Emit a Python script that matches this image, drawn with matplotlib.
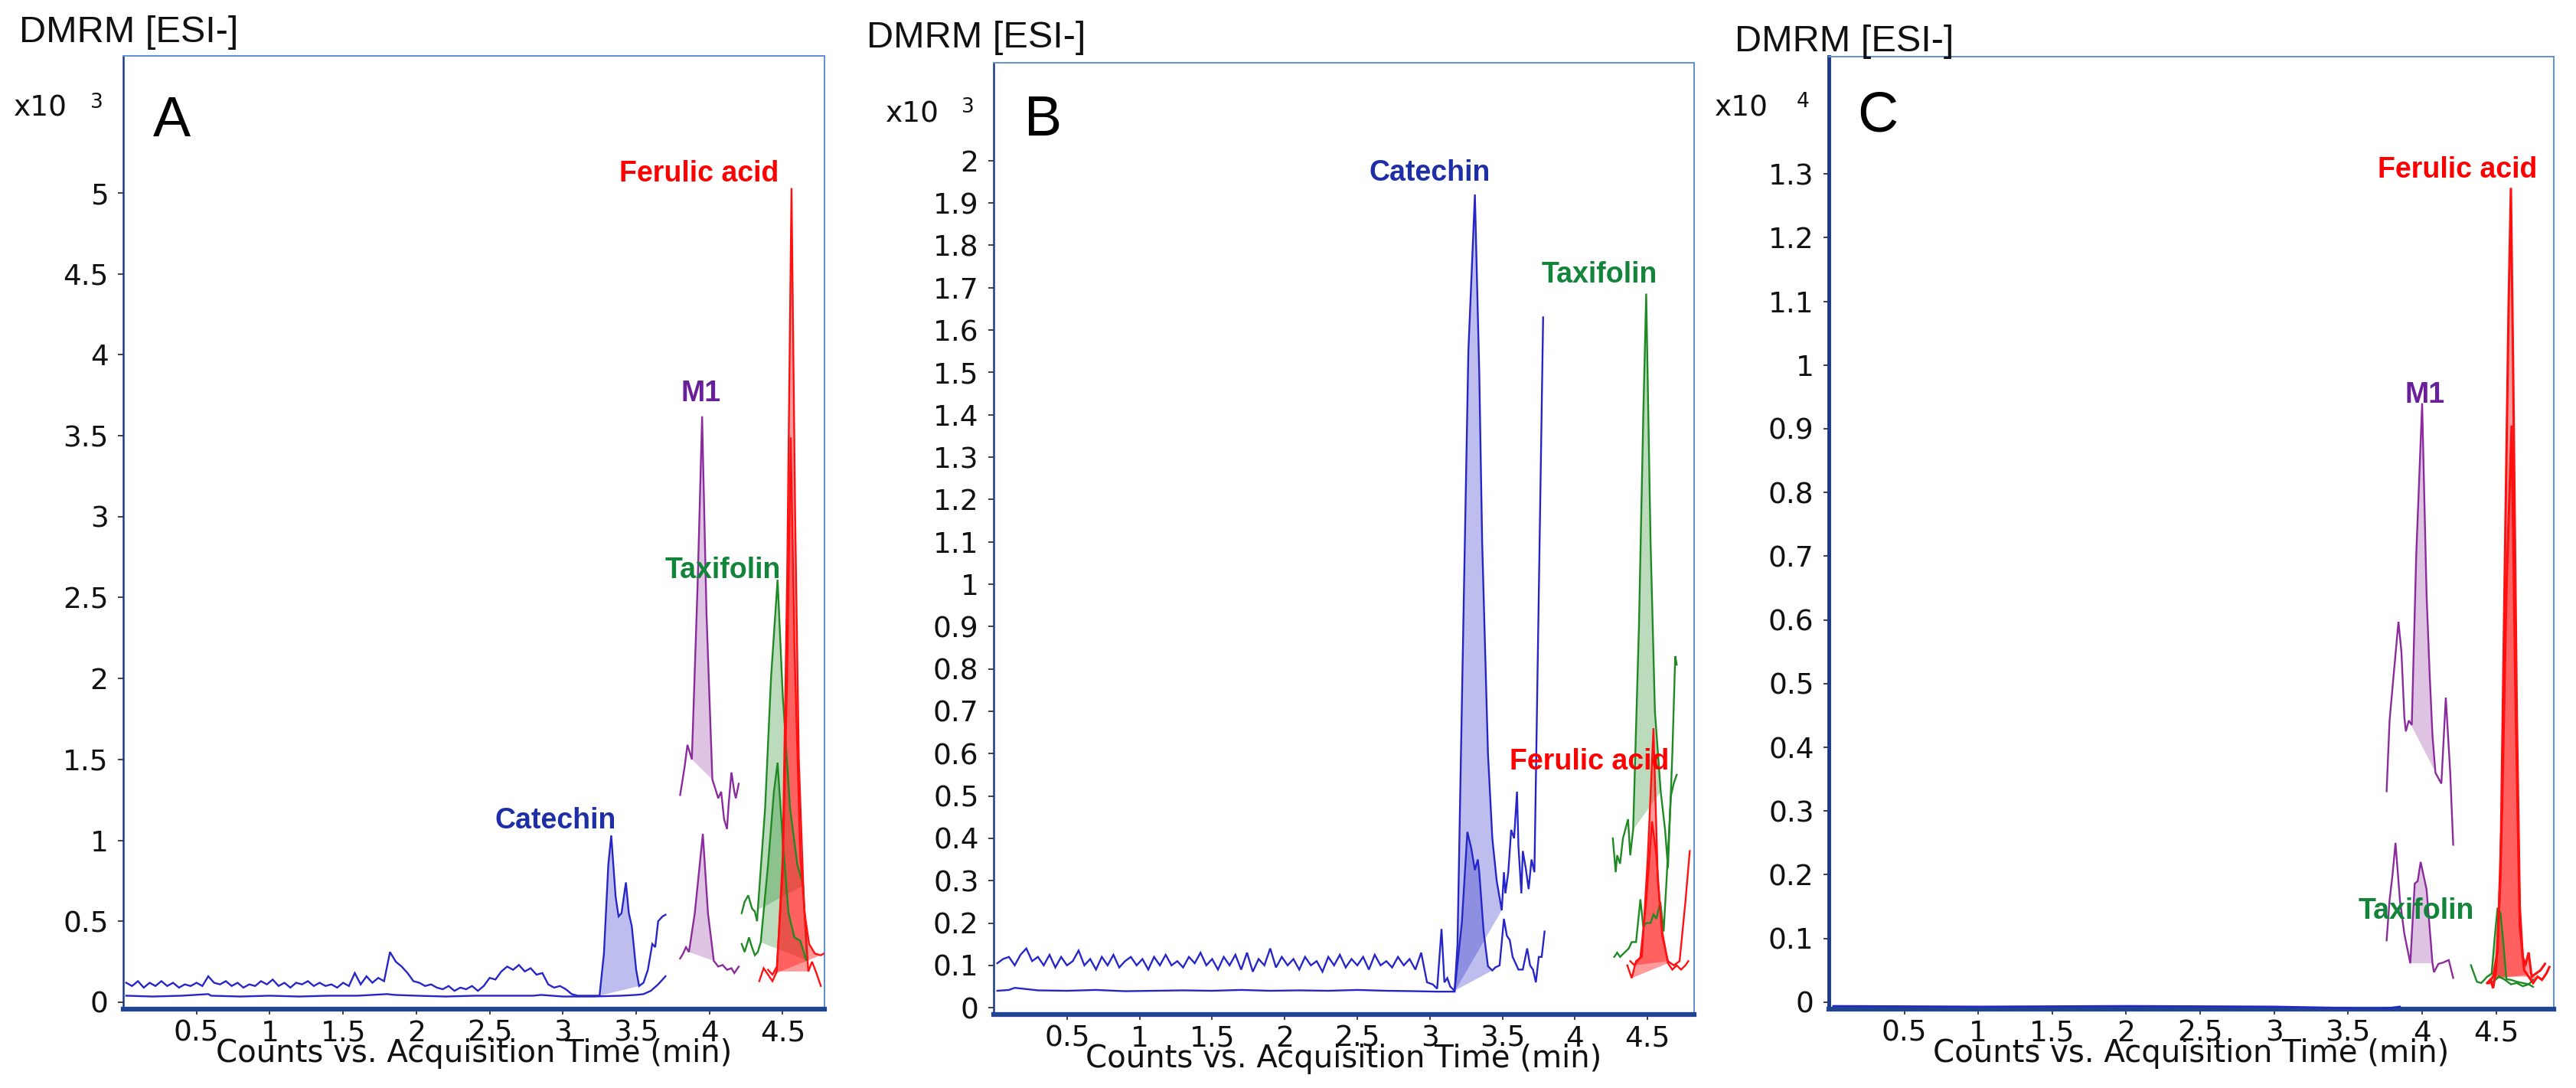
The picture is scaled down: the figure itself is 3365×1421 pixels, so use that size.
import matplotlib
matplotlib.use("Agg")
import matplotlib.pyplot as plt

W, H = 3366, 1421

# ---------------- data (time in min, counts in x10^n) ----------------

# panel A, x10^3
A_CAT1_T = [0.02, 0.06, 0.10, 0.14, 0.18, 0.22, 0.26, 0.30, 0.34, 0.38,
            0.42, 0.46, 0.50, 0.54, 0.58, 0.62, 0.66, 0.70, 0.74, 0.78,
            0.82, 0.86, 0.90, 0.94, 0.98, 1.02, 1.06, 1.10, 1.14, 1.18,
            1.22, 1.26, 1.30, 1.34, 1.38, 1.42, 1.46, 1.50, 1.54, 1.58,
            1.62, 1.66, 1.70, 1.74, 1.78, 1.82, 1.86, 1.90, 1.94, 1.98,
            2.02, 2.06, 2.10, 2.14, 2.18, 2.22, 2.26, 2.30, 2.34, 2.38,
            2.42, 2.46, 2.50, 2.54, 2.58, 2.62, 2.66, 2.70, 2.74, 2.78,
            2.82, 2.86, 2.90, 2.94, 2.98, 3.02, 3.06, 3.10, 3.14, 3.18,
            3.22, 3.25, 3.28, 3.31, 3.33, 3.36, 3.38, 3.40, 3.43, 3.45,
            3.47, 3.50, 3.52, 3.55, 3.58, 3.61, 3.63, 3.65, 3.68, 3.70]
A_CAT1_Y = [0.12, 0.10, 0.13, 0.09, 0.12, 0.10, 0.13, 0.10, 0.12, 0.09,
            0.11, 0.10, 0.12, 0.10, 0.16, 0.12, 0.11, 0.13, 0.10, 0.12,
            0.09, 0.11, 0.10, 0.13, 0.11, 0.14, 0.10, 0.12, 0.09, 0.12,
            0.11, 0.13, 0.10, 0.12, 0.10, 0.11, 0.09, 0.12, 0.10, 0.18,
            0.11, 0.16, 0.12, 0.15, 0.13, 0.31, 0.25, 0.22, 0.18, 0.13,
            0.12, 0.10, 0.11, 0.09, 0.08, 0.10, 0.07, 0.09, 0.08, 0.10,
            0.07, 0.10, 0.15, 0.14, 0.19, 0.22, 0.20, 0.23, 0.19, 0.21,
            0.17, 0.18, 0.11, 0.09, 0.10, 0.08, 0.05, 0.04, 0.04, 0.04,
            0.04, 0.04, 0.30, 0.85, 1.03, 0.65, 0.53, 0.55, 0.74, 0.55,
            0.47, 0.20, 0.10, 0.12, 0.20, 0.36, 0.34, 0.50, 0.53, 0.54]
A_CAT1_WIN = (3.25, 3.52)
A_CAT2_T = [0.02, 0.2, 0.4, 0.58, 0.6, 0.8, 1.0, 1.2, 1.4, 1.6, 1.8, 1.85, 2.0,
            2.2, 2.4, 2.6, 2.8, 2.85, 3.0, 3.2, 3.4, 3.5, 3.55, 3.6, 3.65, 3.70]
A_CAT2_Y = [0.04, 0.035, 0.04, 0.05, 0.04, 0.035, 0.04, 0.035, 0.04, 0.04, 0.05,
            0.045, 0.04, 0.035, 0.04, 0.04, 0.04, 0.045, 0.035, 0.035, 0.04,
            0.045, 0.05, 0.07, 0.11, 0.16]

A_M1A_T = [3.80, 3.83, 3.85, 3.88, 3.92, 3.95, 3.98, 4.02, 4.04, 4.06, 4.08,
           4.10, 4.12, 4.13, 4.15, 4.17, 4.18, 4.20]
A_M1A_Y = [1.28, 1.45, 1.59, 1.50, 2.60, 3.62, 2.40, 1.375, 1.32, 1.26, 1.30,
           1.13, 1.07, 1.21, 1.42, 1.30, 1.26, 1.35]
A_M1A_WIN = (3.88, 4.02)
A_M1B_T = [3.80, 3.82, 3.84, 3.86, 3.90, 3.955, 3.99, 4.03, 4.06, 4.09, 4.12,
           4.15, 4.17, 4.20]
A_M1B_Y = [0.27, 0.30, 0.34, 0.31, 0.55, 1.04, 0.55, 0.255, 0.22, 0.23, 0.20,
           0.21, 0.18, 0.22]
A_M1B_WIN = (3.86, 4.03)

A_TAXA_T = [4.22, 4.24, 4.265, 4.29, 4.31, 4.325, 4.33, 4.38, 4.42, 4.465,
            4.50, 4.55, 4.60, 4.64, 4.665]
A_TAXA_Y = [0.55, 0.62, 0.66, 0.58, 0.56, 0.50, 0.57, 1.20, 2.00, 2.61,
            1.90, 1.20, 0.85, 0.72, 0.28]
A_TAXA_WIN = (4.33, 4.64)
A_TAXB_T = [4.22, 4.24, 4.27, 4.29, 4.31, 4.33, 4.35, 4.40, 4.44, 4.465,
            4.50, 4.54, 4.58, 4.62, 4.66]
A_TAXB_Y = [0.36, 0.31, 0.40, 0.34, 0.29, 0.31, 0.37, 0.85, 1.30, 1.48,
            1.00, 0.55, 0.40, 0.38, 0.26]
A_TAXB_WIN = (4.35, 4.66)

A_FERA_T = [4.34, 4.37, 4.40, 4.43, 4.46, 4.50, 4.53, 4.56, 4.585, 4.61,
            4.645, 4.675, 4.70, 4.73, 4.76]
A_FERA_Y = [0.13, 0.21, 0.17, 0.13, 0.19, 0.90, 2.60, 5.03, 3.00, 1.50,
            0.60, 0.19, 0.25, 0.18, 0.10]
A_FERA_WIN = (4.46, 4.675)
A_FERB_T = [4.40, 4.43, 4.46, 4.50, 4.53, 4.555, 4.58, 4.62, 4.65, 4.68,
            4.72, 4.76, 4.78]
A_FERB_Y = [0.20, 0.17, 0.22, 0.80, 2.00, 3.49, 2.20, 0.90, 0.55, 0.36,
            0.30, 0.29, 0.30]
A_FERB_WIN = (4.43, 4.76)

# panel B, x10^3
B_CAT1_T = [0.02, 0.1, 0.14, 0.3, 0.5, 0.7, 0.9, 1.1, 1.3, 1.5, 1.7, 1.9, 2.1,
            2.3, 2.5, 2.7, 2.9, 3.05, 3.17, 3.19, 3.23, 3.265, 3.31, 3.34,
            3.36, 3.40, 3.43, 3.46, 3.495, 3.51, 3.52, 3.54, 3.56, 3.58, 3.60,
            3.61, 3.63, 3.64, 3.66, 3.68, 3.70, 3.72, 3.78]
B_CAT1_Y = [0.04, 0.042, 0.047, 0.041, 0.04, 0.042, 0.039, 0.04, 0.041, 0.04,
            0.042, 0.04, 0.041, 0.04, 0.042, 0.04, 0.039, 0.038, 0.038, 0.15,
            0.90, 1.55, 1.92, 1.50, 1.10, 0.60, 0.40, 0.30, 0.23, 0.32, 0.27,
            0.32, 0.42, 0.40, 0.51, 0.38, 0.27, 0.37, 0.33, 0.28, 0.35, 0.32,
            1.63]
B_CAT1_WIN = (3.17, 3.495)
B_CAT2_T = [0.02, 0.06, 0.10, 0.14, 0.18, 0.22, 0.26, 0.30, 0.34, 0.38,
            0.42, 0.46, 0.50, 0.54, 0.58, 0.62, 0.66, 0.70, 0.74, 0.78,
            0.82, 0.86, 0.90, 0.94, 0.98, 1.02, 1.06, 1.10, 1.14, 1.18,
            1.22, 1.26, 1.30, 1.34, 1.38, 1.42, 1.46, 1.50, 1.54, 1.58,
            1.62, 1.66, 1.70, 1.74, 1.78, 1.82, 1.86, 1.90, 1.94, 1.98,
            2.02, 2.06, 2.10, 2.14, 2.18, 2.22, 2.26, 2.30, 2.34, 2.38,
            2.42, 2.46, 2.50, 2.54, 2.58, 2.62, 2.66, 2.70, 2.74, 2.78,
            2.82, 2.86, 2.90, 2.94, 2.98, 3.02, 3.05, 3.08, 3.10, 3.12,
            3.14, 3.17, 3.22, 3.258, 3.284, 3.31, 3.33, 3.34, 3.37, 3.40,
            3.43, 3.45, 3.48, 3.51, 3.53, 3.55, 3.57, 3.61, 3.64, 3.67,
            3.69, 3.71, 3.73, 3.75, 3.77, 3.79]
B_CAT2_Y = [0.105, 0.115, 0.12, 0.10, 0.125, 0.14, 0.11, 0.12, 0.10, 0.125,
            0.095, 0.12, 0.10, 0.11, 0.135, 0.10, 0.115, 0.09, 0.12, 0.10,
            0.125, 0.095, 0.11, 0.12, 0.10, 0.115, 0.09, 0.12, 0.10, 0.125,
            0.10, 0.11, 0.095, 0.12, 0.105, 0.13, 0.10, 0.115, 0.09, 0.12,
            0.10, 0.125, 0.09, 0.13, 0.085, 0.115, 0.10, 0.14, 0.095, 0.12,
            0.10, 0.115, 0.09, 0.12, 0.10, 0.11, 0.085, 0.12, 0.10, 0.125,
            0.095, 0.115, 0.10, 0.12, 0.09, 0.125, 0.10, 0.11, 0.095, 0.12,
            0.10, 0.115, 0.09, 0.13, 0.06, 0.055, 0.045, 0.186, 0.06, 0.07,
            0.05, 0.04, 0.20, 0.415, 0.378, 0.325, 0.35, 0.32, 0.18, 0.098,
            0.088, 0.095, 0.10, 0.21, 0.17, 0.16, 0.12, 0.09, 0.09, 0.14,
            0.10, 0.09, 0.06, 0.12, 0.12, 0.18]
B_CAT2_WIN = (3.17, 3.43)

B_TAXA_T = [4.26, 4.28, 4.29, 4.31, 4.33, 4.365, 4.38, 4.40, 4.44, 4.47,
            4.49, 4.52, 4.55, 4.59, 4.62, 4.64, 4.67, 4.69, 4.70]
B_TAXA_Y = [0.40, 0.32, 0.36, 0.34, 0.40, 0.445, 0.36, 0.42, 0.90, 1.40,
            1.686, 1.10, 0.70, 0.51, 0.42, 0.33, 0.60, 0.83, 0.81]
B_TAXA_WIN = (4.40, 4.59)
B_TAXB_T = [4.27, 4.29, 4.31, 4.34, 4.37, 4.39, 4.42, 4.45, 4.47, 4.49, 4.52,
            4.54, 4.56, 4.587, 4.61, 4.63, 4.66, 4.68, 4.70]
B_TAXB_Y = [0.12, 0.13, 0.12, 0.13, 0.14, 0.155, 0.155, 0.256, 0.19, 0.20,
            0.20, 0.22, 0.21, 0.25, 0.18, 0.30, 0.50, 0.53, 0.55]

B_FERA_T = [4.36, 4.39, 4.42, 4.46, 4.50, 4.54, 4.57, 4.60, 4.64, 4.67, 4.70,
            4.73, 4.76, 4.78]
B_FERA_Y = [0.10, 0.07, 0.11, 0.12, 0.35, 0.66, 0.30, 0.18, 0.105, 0.09, 0.10,
            0.09, 0.10, 0.11]
B_FERA_WIN = (4.39, 4.64)
B_FERB_T = [4.38, 4.41, 4.45, 4.49, 4.53, 4.56, 4.60, 4.64, 4.68, 4.72, 4.76,
            4.79]
B_FERB_Y = [0.11, 0.10, 0.12, 0.25, 0.44, 0.36, 0.17, 0.11, 0.10, 0.11, 0.25,
            0.37]
B_FERB_WIN = (4.41, 4.64)

# panel C, x10^4
C_CAT_T = [0.02, 1.0, 2.0, 3.0, 3.45, 3.6, 3.75, 3.85]
C_CAT_Y = [-0.006, -0.007, -0.006, -0.007, -0.009, -0.011, -0.010, -0.007]

C_M1A_T = [3.76, 3.78, 3.81, 3.84, 3.86, 3.88, 3.89, 3.91, 3.93, 3.96, 4.00,
           4.03, 4.05, 4.07, 4.09, 4.13, 4.16, 4.19, 4.21]
C_M1A_Y = [0.331, 0.442, 0.52, 0.597, 0.55, 0.447, 0.425, 0.442, 0.435, 0.70,
           0.94, 0.64, 0.52, 0.418, 0.36, 0.343, 0.478, 0.36, 0.247]
C_M1A_WIN = (3.91, 4.13)
C_M1B_T = [3.76, 3.78, 3.80, 3.82, 3.85, 3.88, 3.92, 3.95, 3.97, 3.99, 4.03,
           4.07, 4.08, 4.11, 4.14, 4.18, 4.21]
C_M1B_Y = [0.097, 0.16, 0.20, 0.25, 0.16, 0.107, 0.061, 0.186, 0.19, 0.22,
           0.177, 0.061, 0.047, 0.06, 0.062, 0.066, 0.038]
C_M1B_WIN = (3.92, 4.07)

C_TAXA_T = [4.33, 4.35, 4.37, 4.40, 4.44, 4.47, 4.49, 4.51, 4.53, 4.55, 4.57,
            4.60, 4.64, 4.68, 4.72, 4.75]
C_TAXA_Y = [0.058, 0.045, 0.032, 0.030, 0.040, 0.045, 0.10, 0.148, 0.14, 0.09,
            0.036, 0.035, 0.032, 0.030, 0.028, 0.035]
C_TAXA_WIN = (4.44, 4.57)
C_TAXB_T = [4.44, 4.48, 4.52, 4.56, 4.60, 4.64, 4.68, 4.72, 4.75]
C_TAXB_Y = [0.030, 0.032, 0.040, 0.035, 0.028, 0.030, 0.025, 0.028, 0.024]

C_FERA_T = [4.44, 4.46, 4.48, 4.50, 4.53, 4.56, 4.585, 4.60, 4.615, 4.64,
            4.66, 4.68, 4.70, 4.72, 4.74, 4.77, 4.80, 4.83]
C_FERA_Y = [0.030, 0.035, 0.022, 0.050, 0.20, 0.70, 1.10, 1.278, 1.00, 0.45,
            0.15, 0.07, 0.06, 0.078, 0.04, 0.045, 0.05, 0.06]
C_FERA_WIN = (4.46, 4.77)
C_FERB_T = [4.45, 4.48, 4.51, 4.54, 4.57, 4.605, 4.63, 4.66, 4.69, 4.72, 4.75,
            4.78, 4.81, 4.84, 4.86]
C_FERB_Y = [0.030, 0.040, 0.08, 0.30, 0.65, 0.905, 0.50, 0.12, 0.05, 0.04,
            0.03, 0.04, 0.035, 0.045, 0.055]
C_FERB_WIN = (4.48, 4.78)

# axis ticks
A_YTICKS = [0, 0.5, 1, 1.5, 2, 2.5, 3, 3.5, 4, 4.5, 5]
B_YTICKS = [0, 0.1, 0.2, 0.3, 0.4, 0.5, 0.6, 0.7, 0.8, 0.9, 1, 1.1, 1.2, 1.3,
            1.4, 1.5, 1.6, 1.7, 1.8, 1.9, 2]
C_YTICKS = [0, 0.1, 0.2, 0.3, 0.4, 0.5, 0.6, 0.7, 0.8, 0.9, 1, 1.1, 1.2, 1.3]
XTICKS = [0.5, 1, 1.5, 2, 2.5, 3, 3.5, 4, 4.5]

# compound labels: (text, x, y)
A_LABELS = [("Ferulic acid", 3.93, 5.12), ("M1", 3.94, 3.76),
            ("Taxifolin", 4.09, 2.67), ("Catechin", 2.95, 1.12)]
B_LABELS = [("Catechin", 3.0, 1.97), ("Taxifolin", 4.17, 1.73),
            ("Ferulic acid", 4.10, 0.58)]
C_LABELS = [("Ferulic acid", 4.24, 1.306), ("M1", 4.02, 0.953),
            ("Taxifolin", 3.96, 0.143)]

# ---------------- styling ----------------
LINE = {"Catechin": "#2525c8", "M1": "#8a2a9c", "Taxifolin": "#1f8a24",
        "Ferulic acid": "#ff1010"}
FILL_ALPHA = {"Catechin": 0.3, "M1": 0.28, "Taxifolin": 0.3, "Ferulic acid": 0.42}
LABEL_COL = {"Catechin": "#1e2ea6", "M1": "#6a1f9a", "Taxifolin": "#13853a",
             "Ferulic acid": "#ff0000"}

TICK_FONT = ["DejaVu Sans"]
ARIAL = ["Liberation Sans", "DejaVu Sans"]
TICK_SIZE = 27


def fx(px):
    return px / W


def fy(py):
    return 1 - py / H


def trace(ax, t, y, name, win=None, lw=1.7):
    ax.plot(t, y, color=LINE[name], lw=lw, solid_joinstyle="miter", zorder=3)
    if win is not None:
        i0, i1 = t.index(win[0]), t.index(win[1])
        ax.fill(t[i0:i1 + 1], y[i0:i1 + 1], color=LINE[name],
                alpha=FILL_ALPHA[name], lw=0, zorder=2)


def make_axes(rect_px, xlim, ylim, yticks):
    l, t, r, b = rect_px
    ax = fig.add_axes([fx(l), fy(b), fx(r - l), (b - t) / H])
    ax.set_xlim(*xlim)
    ax.set_ylim(*ylim)
    ax.set_yticks(yticks)
    ax.set_yticklabels([f"{v:g}" for v in yticks])
    ax.set_xticks(XTICKS)
    ax.set_xticklabels([f"{v:g}" for v in XTICKS])
    for side in ("top", "right"):
        ax.spines[side].set_color("#5f8fd8")
        ax.spines[side].set_linewidth(1.4)
    ax.spines["left"].set_color("#1c3a86")
    ax.spines["left"].set_linewidth(1.8)
    ax.spines["bottom"].set_color("#1f4494")
    ax.spines["bottom"].set_linewidth(4.5)
    ax.tick_params(axis="both", direction="out", length=5, width=1.3,
                   color="#333333", labelsize=TICK_SIZE)
    ax.tick_params(axis="y", pad=9)
    ax.tick_params(axis="x", pad=5)
    for lab in ax.get_xticklabels() + ax.get_yticklabels():
        lab.set_family(TICK_FONT)
        lab.set_color("#111111")
    ax.text(0.5, -0.0555, "Counts vs. Acquisition Time (min)",
            transform=ax.transAxes, ha="center", va="baseline",
            fontsize=29, family=TICK_FONT, color="#111111")
    return ax


def labels(ax, items):
    for text, x, y in items:
        ax.text(x, y, text, ha="center", va="center", fontsize=27,
                fontweight="bold", family=ARIAL, color=LABEL_COL[text], zorder=5)


def header(title_xy, x10_xy, exp_xy, exp, letter_xy, letter):
    fig.text(fx(title_xy[0]), fy(title_xy[1]), "DMRM [ESI-]", fontsize=35,
             family=ARIAL, va="baseline", ha="left", color="#111111")
    fig.text(fx(x10_xy[0]), fy(x10_xy[1]), "x10", fontsize=TICK_SIZE,
             family=TICK_FONT, va="baseline", ha="left", color="#111111")
    fig.text(fx(exp_xy[0]), fy(exp_xy[1]), exp, fontsize=19,
             family=TICK_FONT, va="baseline", ha="left", color="#111111")
    fig.text(fx(letter_xy[0]), fy(letter_xy[1]), letter, fontsize=53,
             family=ARIAL, va="baseline", ha="left", color="#000000")


fig = plt.figure(figsize=(W / 100, H / 100), dpi=100)
fig.patch.set_facecolor("white")

# ---- A ----
axA = make_axes((161, 73, 1077, 1318), (0, 4.785), (-0.043, 5.847), A_YTICKS)
trace(axA, A_CAT2_T, A_CAT2_Y, "Catechin")
trace(axA, A_CAT1_T, A_CAT1_Y, "Catechin", A_CAT1_WIN)
trace(axA, A_M1A_T, A_M1A_Y, "M1", A_M1A_WIN)
trace(axA, A_M1B_T, A_M1B_Y, "M1", A_M1B_WIN)
trace(axA, A_TAXA_T, A_TAXA_Y, "Taxifolin", A_TAXA_WIN)
trace(axA, A_TAXB_T, A_TAXB_Y, "Taxifolin", A_TAXB_WIN)
trace(axA, A_FERB_T, A_FERB_Y, "Ferulic acid", A_FERB_WIN)
trace(axA, A_FERA_T, A_FERA_Y, "Ferulic acid", A_FERA_WIN)
labels(axA, A_LABELS)
header((25, 55), (18, 151), (118, 141), "3", (200, 178), "A")

# ---- B ----
axB = make_axes((1298, 82, 2213, 1325), (-0.005, 4.82), (-0.016, 2.231), B_YTICKS)
trace(axB, B_CAT2_T, B_CAT2_Y, "Catechin", B_CAT2_WIN)
trace(axB, B_CAT1_T, B_CAT1_Y, "Catechin", B_CAT1_WIN)
trace(axB, B_TAXB_T, B_TAXB_Y, "Taxifolin")
trace(axB, B_TAXA_T, B_TAXA_Y, "Taxifolin", B_TAXA_WIN)
trace(axB, B_FERB_T, B_FERB_Y, "Ferulic acid", B_FERB_WIN)
trace(axB, B_FERA_T, B_FERA_Y, "Ferulic acid", B_FERA_WIN)
labels(axB, B_LABELS)
header((1132, 62), (1157, 159), (1256, 147), "3", (1338, 177), "B")

# ---- C ----
axC = make_axes((2389, 74, 3336, 1318), (-0.01, 4.89), (-0.011, 1.484), C_YTICKS)
axC.spines["left"].set_linewidth(3.5)
trace(axC, C_CAT_T, C_CAT_Y, "Catechin")
trace(axC, C_M1A_T, C_M1A_Y, "M1", C_M1A_WIN)
trace(axC, C_M1B_T, C_M1B_Y, "M1", C_M1B_WIN)
trace(axC, C_TAXB_T, C_TAXB_Y, "Taxifolin")
trace(axC, C_TAXA_T, C_TAXA_Y, "Taxifolin", C_TAXA_WIN)
trace(axC, C_FERB_T, C_FERB_Y, "Ferulic acid", C_FERB_WIN, lw=2.2)
trace(axC, C_FERA_T, C_FERA_Y, "Ferulic acid", C_FERA_WIN, lw=2.2)
labels(axC, C_LABELS)
header((2266, 67), (2240, 152), (2347, 140), "4", (2426, 172), "C")

fig.savefig("out.png", dpi=100)
